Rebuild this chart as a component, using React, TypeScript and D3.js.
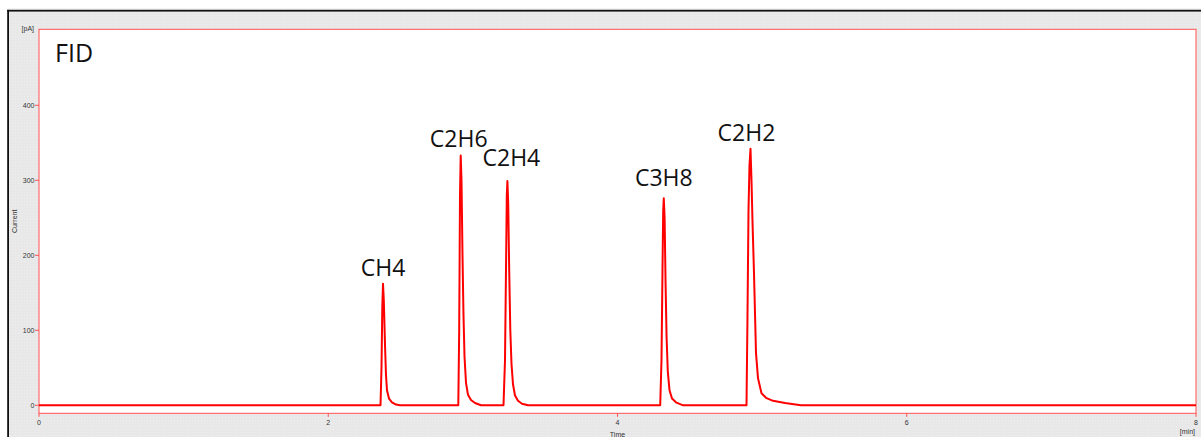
import React from "react";
import * as d3 from "d3";

// ---- Data (time in min, signal in pA) ----
const yTicks = [0, 100, 200, 300, 400];
const xTicks = [0, 2, 4, 6, 8];
const detectorLabel = "FID";
const peakNames = ["CH4", "C2H6", "C2H4", "C3H8", "C2H2"];
const peakApexTimes = [2.3786, 2.9158, 3.2387, 4.3201, 4.9196];
const peakApexValues = [162, 333, 299, 276, 342];
const labelOffsetsPx = [
  [0, 14],
  [-2, 15],
  [4, 21],
  [0, 18],
  [-4, 14],
];

const baselineStart: [number, number][] = [[0, 0]];
const ch4Trace: [number, number][] = [
  [2.3613, 0], [2.3682, 50], [2.3737, 130], [2.3786, 162], [2.3841, 140],
  [2.3924, 81], [2.3993, 40], [2.4062, 20], [2.42, 9], [2.4408, 4],
  [2.4684, 1], [2.4961, 0],
];
const c2h6Trace: [number, number][] = [
  [2.8992, 0], [2.9054, 100], [2.911, 280], [2.9158, 333], [2.9213, 300],
  [2.9283, 200], [2.9352, 120], [2.9421, 65], [2.9525, 30], [2.9663, 14],
  [2.987, 7], [3.0147, 3], [3.0562, 0],
];
const c2h4Trace: [number, number][] = [
  [3.2118, 0], [3.2221, 60], [3.229, 180], [3.2346, 280], [3.2387, 299],
  [3.2443, 270], [3.2512, 180], [3.2588, 100], [3.2671, 55], [3.2774, 28],
  [3.2913, 13], [3.312, 6], [3.3397, 2], [3.3812, 0],
];
const c3h8Trace: [number, number][] = [
  [4.2953, 0], [4.3042, 60], [4.3111, 180], [4.316, 260], [4.3201, 276],
  [4.3257, 250], [4.3326, 160], [4.3395, 90], [4.3478, 45], [4.3596, 20],
  [4.3769, 9], [4.4045, 4], [4.4529, 0],
];
const c2h2Trace: [number, number][] = [
  [4.892, 0], [4.8989, 120], [4.9058, 260], [4.9127, 320], [4.9196, 342],
  [4.9265, 300], [4.9334, 245], [4.9438, 176], [4.9576, 70], [4.9715, 36],
  [4.9957, 16], [5.0268, 10], [5.0752, 6], [5.1582, 3], [5.2688, 0],
];
const baselineEnd: [number, number][] = [[8, 0]];

const W = 1201;
const H = 437;
const plot = { left: 39, top: 29.3, right: 1196, bottom: 413.3 };

export default function App() {
  const x = d3.scaleLinear().domain([0, 8]).range([plot.left, plot.right]);
  const y = d3
    .scaleLinear()
    .domain([-10.67, 501.33])
    .range([plot.bottom, plot.top]);

  const series: [number, number][] = [
    ...baselineStart,
    ...ch4Trace,
    ...c2h6Trace,
    ...c2h4Trace,
    ...c3h8Trace,
    ...c2h2Trace,
    ...baselineEnd,
  ];
  const line = d3
    .line<[number, number]>()
    .x((d) => x(d[0]))
    .y((d) => y(d[1]))
    .curve(d3.curveLinear);

  const tickFont = "Liberation Sans, Arial, sans-serif";
  const bigFont = "'Open Sans', 'Noto Sans', sans-serif";
  const axisRed = "#ff5050";

  return (
    <div style={{ position: "absolute", left: 0, top: 0, width: W, height: H }}>
      <svg width={W} height={H} viewBox={`0 0 ${W} ${H}`} style={{ display: "block" }}>
        <defs>
          <pattern id="dots" width="3" height="3" patternUnits="userSpaceOnUse">
            <rect width="3" height="3" fill="#e8e8e8" />
            <rect width="1" height="1" fill="#efefef" />
          </pattern>
        </defs>
        <rect x={0} y={0} width={W} height={H} fill="#ffffff" />
        {/* panel background */}
        <rect x={9} y={11.5} width={W - 9} height={H - 11.5} fill="url(#dots)" />
        {/* black frame */}
        <rect x={7.2} y={9.8} width={W - 7.2} height={1.8} fill="#111" />
        <rect x={7.2} y={9.8} width={1.8} height={H - 9.8} fill="#111" />
        <line x1={7} x2={W} y1={9.3} y2={9.3} stroke="#bbb" strokeWidth={0.8} />

        {/* plot area */}
        <rect
          x={plot.left}
          y={plot.top}
          width={plot.right - plot.left}
          height={plot.bottom - plot.top}
          fill="#ffffff"
          stroke={axisRed}
          strokeWidth={1}
        />

        {/* y ticks */}
        {yTicks.map((t) => (
          <g key={`y${t}`}>
            <line x1={plot.left - 4} x2={plot.left} y1={y(t)} y2={y(t)} stroke={axisRed} strokeWidth={1} />
            <text
              x={plot.left - 4.5}
              y={y(t)}
              dy="0.35em"
              textAnchor="end"
              fontFamily={tickFont}
              fontSize={7}
              fill="#333"
            >
              {t}
            </text>
          </g>
        ))}
        <text x={34} y={plot.top} dy="0.3em" textAnchor="end" fontFamily={tickFont} fontSize={7} fill="#333">
          [pA]
        </text>
        <text
          transform={`translate(15,${(plot.top + plot.bottom) / 2}) rotate(-90)`}
          textAnchor="middle"
          dy="0.35em"
          fontFamily={tickFont}
          fontSize={7}
          fill="#333"
        >
          Current
        </text>

        {/* x ticks */}
        {xTicks.map((t) => (
          <g key={`x${t}`}>
            <line x1={x(t)} x2={x(t)} y1={plot.bottom} y2={plot.bottom + 3.5} stroke={axisRed} strokeWidth={1} />
            <text
              x={x(t)}
              y={plot.bottom + 9}
              dy="0.35em"
              textAnchor="middle"
              fontFamily={tickFont}
              fontSize={7}
              fill="#333"
            >
              {t}
            </text>
          </g>
        ))}
        <text x={1195} y={432} dy="0.35em" textAnchor="end" fontFamily={tickFont} fontSize={7} fill="#333">
          [min]
        </text>
        <text
          x={(plot.left + plot.right) / 2}
          y={435}
          dy="0.35em"
          textAnchor="middle"
          fontFamily={tickFont}
          fontSize={7}
          fill="#333"
        >
          Time
        </text>

        {/* signal */}
        <path d={line(series) ?? ""} fill="none" stroke="#ff0000" strokeWidth={2} strokeLinejoin="round" />

        {/* labels */}
        <text x={55} y={61.5} fontFamily={bigFont} fontSize={25} fill="#111">
          {detectorLabel}
        </text>
        {peakNames.map((name, i) => (
          <text
            key={name}
            x={x(peakApexTimes[i]) + labelOffsetsPx[i][0]}
            y={y(peakApexValues[i]) - labelOffsetsPx[i][1] + 6}
            textAnchor="middle"
            fontFamily={bigFont}
            fontSize={23}
            fill="#111"
          >
            {name}
          </text>
        ))}
      </svg>
    </div>
  );
}
